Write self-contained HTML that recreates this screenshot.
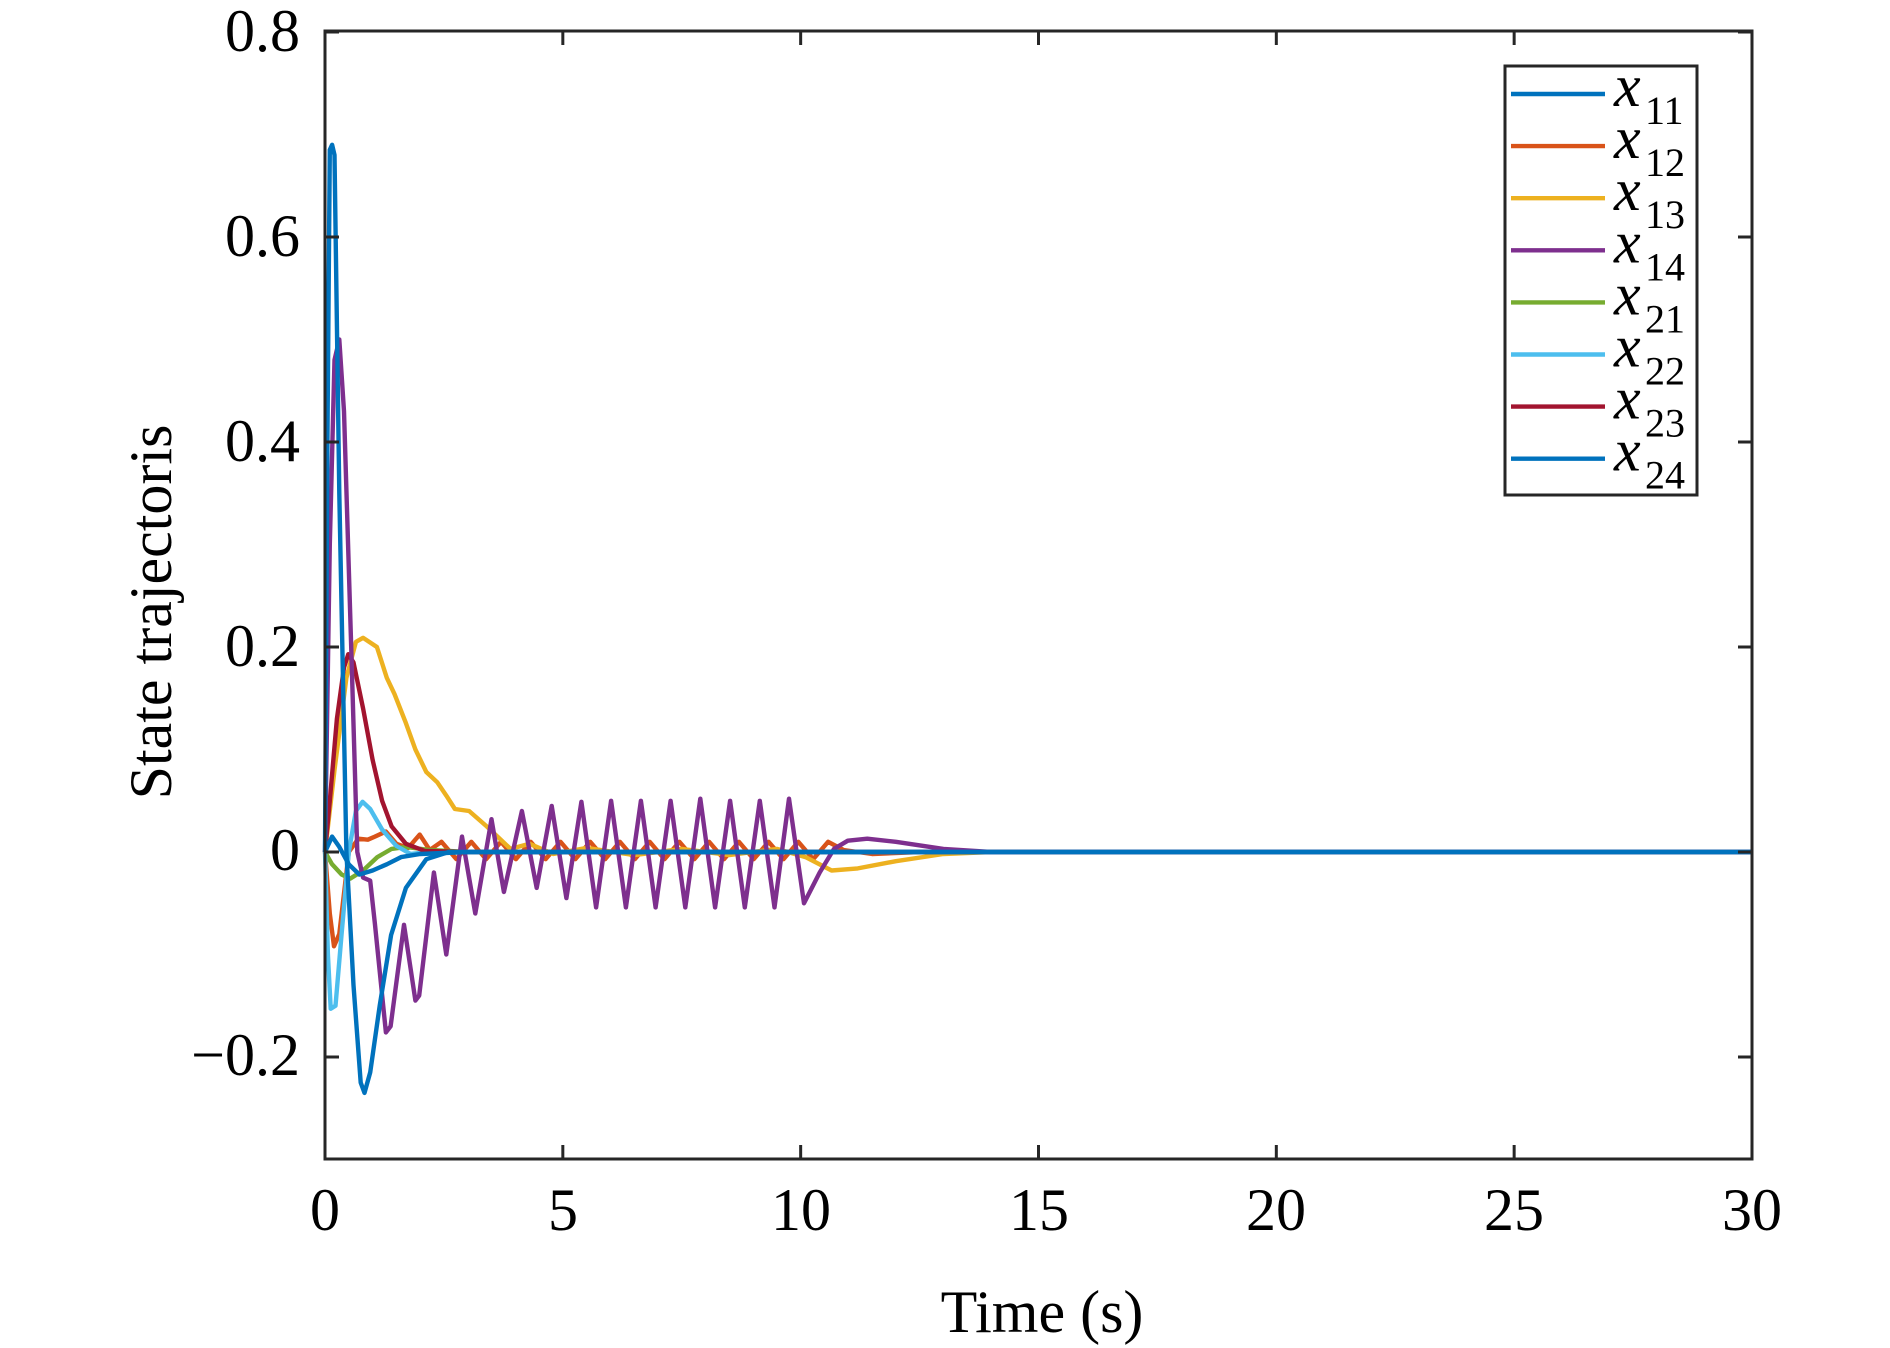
<!DOCTYPE html>
<html><head><meta charset="utf-8"><style>
html,body{margin:0;padding:0;background:#fff;}
svg{display:block;font-family:"Liberation Serif",serif;}
</style></head><body>
<svg id="s" width="1890" height="1348" viewBox="0 0 1890 1348" xmlns="http://www.w3.org/2000/svg">
<rect width="1890" height="1348" fill="#fff"/>
<g id="curves" fill="none" stroke-width="4.4" stroke-linejoin="round"></g>
<rect x="325" y="31" width="1427" height="1128" fill="none" stroke="#262626" stroke-width="3"/>
<g id="ticks" stroke="#262626" stroke-width="3"></g>
<g font-size="60" fill="#000" text-anchor="end">
<text x="300" y="51">0.8</text>
<text x="300" y="256">0.6</text>
<text x="300" y="461">0.4</text>
<text x="300" y="666">0.2</text>
<text x="300" y="870">0</text>
<text x="300" y="1075">−0.2</text>
</g>
<g font-size="60" fill="#000" text-anchor="middle">
<text x="325" y="1230">0</text>
<text x="563" y="1230">5</text>
<text x="801" y="1230">10</text>
<text x="1039" y="1230">15</text>
<text x="1276" y="1230">20</text>
<text x="1514" y="1230">25</text>
<text x="1752" y="1230">30</text>
<text x="1042" y="1332">Time (s)</text>
<text transform="translate(171,612) rotate(-90)">State trajectoris</text>
</g>
<rect x="1505" y="66" width="192" height="429" fill="#fff" stroke="#262626" stroke-width="3"/>
<g id="leg" stroke-width="4.4"></g>
<g id="legt" fill="#000"></g>
</svg>
<script>
var X=t=>325+47.57*t, Y=v=>852-1025*v;
function path(pts,col){var d=pts.map((p,i)=>(i?'L':'M')+X(p[0]).toFixed(1)+' '+Y(p[1]).toFixed(1)).join(' ');
var e=document.createElementNS('http://www.w3.org/2000/svg','path');e.setAttribute('d',d);e.setAttribute('stroke',col);document.getElementById('curves').appendChild(e);}
var o=[[0,0],[0.1,-0.06],[0.19,-0.092],[0.3,-0.08],[0.5,0],[0.7,0.013],[0.9,0.012],[1.05,0.015],[1.28,0.02],[1.5,0.008],[1.75,0.004],[1.99,0.017],[2.2,0.002]];
for(var t=2.45;t<10.6;t+=0.3125){var k=Math.round((t-2.45)/0.3125);o.push([t,k%2?-0.007:0.01]);}
o.push([10.9,0.002],[11.5,-0.002],[12.5,0],[30,0]);path(o,'#D95319');
var y=[[0,0],[0.2,0.08],[0.45,0.17],[0.65,0.205],[0.8,0.209],[1.09,0.2],[1.3,0.17],[1.46,0.154],[1.69,0.127],[1.9,0.1],[2.13,0.078],[2.36,0.068],[2.55,0.055],[2.73,0.042],[3.03,0.04],[3.4,0.025],[3.9,0.003],[4.3,0.008],[4.8,-0.002],[5.5,0.004],[6.5,-0.003],[7.5,0.003],[8.5,-0.003],[9.5,0.003],[10.1,-0.005],[10.65,-0.018],[11.2,-0.016],[12,-0.009],[13,-0.002],[14,0],[30,0]];
path(y,'#EDB120');
path([[0,0],[0.15,-0.012],[0.35,-0.022],[0.53,-0.026],[0.8,-0.018],[1.1,-0.005],[1.4,0.003],[1.7,0.005],[2.2,0.002],[3,0],[30,0]],'#77AC30');
path([[0,0],[0.06,-0.1],[0.12,-0.153],[0.22,-0.15],[0.35,-0.08],[0.5,0],[0.65,0.04],[0.79,0.049],[0.95,0.042],[1.2,0.022],[1.5,0.006],[1.8,-0.002],[2.2,0],[30,0]],'#4DBEEE');
path([[0,0],[0.1,0.05],[0.25,0.13],[0.4,0.18],[0.49,0.193],[0.6,0.185],[0.8,0.14],[1.0,0.09],[1.2,0.05],[1.4,0.025],[1.7,0.008],[2.1,0.001],[3,0],[30,0]],'#A2142F');
var p=[[0,0],[0.1,0.3],[0.2,0.48],[0.3,0.5],[0.4,0.43],[0.55,0.2],[0.68,0],[0.8,-0.025],[0.95,-0.028],[1.05,-0.07],[1.28,-0.176],[1.38,-0.17],[1.66,-0.071],[1.9,-0.145],[1.98,-0.14],[2.29,-0.02],[2.55,-0.1],[2.88,0.015],[3.16,-0.06],[3.5,0.032],[3.76,-0.039],[4.14,0.04],[4.45,-0.035]];
var pk=[0.045,0.049,0.05,0.05,0.05,0.052,0.05,0.05,0.052,0.052];
for(var k=0;k<8;k++){p.push([4.14+0.625*(k+1),pk[k]]);p.push([4.45+0.625*(k+1),k<1?-0.045:-0.054]);}
p.push([9.755,0.052],[10.07,-0.05],[10.4,-0.02],[10.7,0.003],[10.99,0.011],[11.4,0.013],[12,0.01],[13,0.003],[14,0],[30,0]);
path(p,'#7E2F8E');
path([[0,0],[0.15,0.015],[0.3,0.005],[0.5,-0.012],[0.72,-0.022],[1.0,-0.018],[1.3,-0.012],[1.6,-0.005],[2.0,-0.002],[3,0],[30,0]],'#0072BD');
path([[0,0],[0.05,0.4],[0.1,0.685],[0.15,0.69],[0.2,0.68],[0.3,0.35],[0.45,0],[0.6,-0.13],[0.75,-0.225],[0.83,-0.235],[0.95,-0.215],[1.15,-0.15],[1.39,-0.081],[1.7,-0.035],[2.13,-0.007],[2.6,0],[30,0]],'#0072BD');
var g=document.getElementById('ticks'),h='';
for(var i=0;i<=6;i++){var x=325+237.83*i;h+='<line x1="'+x+'" y1="1159" x2="'+x+'" y2="1145"/><line x1="'+x+'" y1="31" x2="'+x+'" y2="45"/>';}
for(var v=-0.2;v<0.81;v+=0.2){var yy=Y(v);h+='<line x1="325" y1="'+yy+'" x2="339" y2="'+yy+'"/><line x1="1752" y1="'+yy+'" x2="1738" y2="'+yy+'"/>';}
g.innerHTML=h;
var cols=['#0072BD','#D95319','#EDB120','#7E2F8E','#77AC30','#4DBEEE','#A2142F','#0072BD'],subs=['11','12','13','14','21','22','23','24'];
var L='',T='';
for(var i=0;i<8;i++){var yy=94+52.1*i;L+='<line x1="1511" y1="'+yy+'" x2="1605" y2="'+yy+'" stroke="'+cols[i]+'"/>';
T+='<text x="1614" y="'+(yy+12)+'" font-size="60" font-style="italic">x</text><text x="1645" y="'+(yy+30)+'" font-size="40">'+subs[i]+'</text>';}
document.getElementById('leg').innerHTML=L;document.getElementById('legt').innerHTML=T;
</script>
</body></html>
